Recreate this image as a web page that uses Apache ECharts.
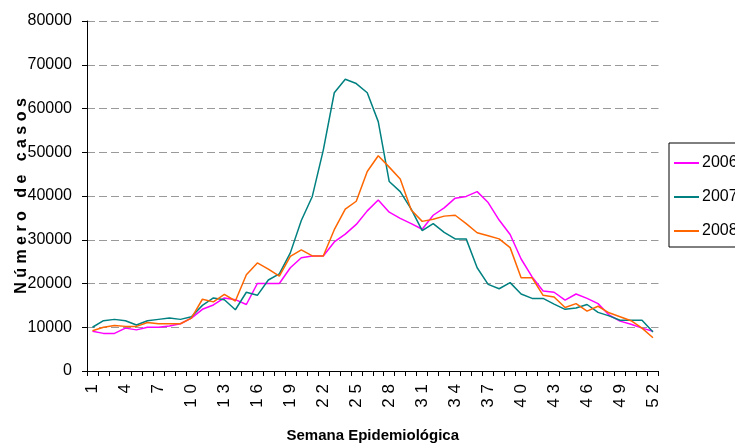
<!DOCTYPE html>
<html>
<head>
<meta charset="utf-8">
<script src="https://cdn.jsdelivr.net/npm/echarts@6/dist/echarts.min.js"></script>
<style>
html,body{margin:0;padding:0;background:#fff;}
#chart{width:735px;height:445px;}
</style>
</head>
<body>
<div id="chart"></div>
<script>
var weeks = [];
for (var i = 1; i <= 52; i++) weeks.push(String(i));

var s2006 = [9100, 8600, 8600, 9800, 9400, 10000, 10000, 10300, 10800, 12100,
  14100, 15100, 16700, 16300, 15200, 20000, 20000, 20000, 23600, 25900,
  26300, 26300, 29500, 31300, 33500, 36600, 39100, 36300, 34900, 33700,
  32400, 35600, 37300, 39500, 39900, 41000, 38500, 34500, 31200, 25600,
  21500, 18300, 18000, 16200, 17600, 16600, 15400, 12800, 11400, 10700,
  9800, 9100];

var s2007 = [10000, 11500, 11800, 11500, 10500, 11500, 11800, 12100, 11800, 12400,
  15000, 16700, 16300, 14000, 18000, 17300, 20800, 22200, 27000, 34400,
  39900, 50500, 63600, 66700, 65700, 63600, 57000, 43300, 41000, 37000,
  32100, 33700, 31700, 30200, 30200, 23600, 19800, 18800, 20200, 17600,
  16600, 16600, 15300, 14100, 14400, 15200, 13400, 12600, 11600, 11600,
  11600, 8900];

var s2008 = [9200, 10000, 10400, 10200, 10200, 11100, 10800, 10800, 10800, 12100,
  16400, 15800, 17500, 16000, 22000, 24700, 23300, 21700, 26200, 27700,
  26300, 26300, 32300, 37000, 38800, 45600, 49200, 46600, 43900, 36800,
  34200, 34700, 35400, 35600, 33700, 31600, 30900, 30200, 28200, 21300,
  21300, 17300, 16900, 14500, 15400, 13700, 14800, 13300, 12400, 11500,
  9800, 7600];

var seriesNames = ['2006', '2007', '2008'];
var seriesColors = ['#FF00FF', '#008080', '#FF6600'];
var seriesData = [s2006, s2007, s2008];

var FONT = '"Liberation Sans", Arial, sans-serif';

var chart = echarts.init(document.getElementById('chart'), null, {renderer: 'canvas'});
chart.setOption({
  animation: false,
  backgroundColor: '#ffffff',
  grid: {left: 87, right: 76.5, top: 21, bottom: 74, containLabel: false, outerBoundsMode: 'none'},
  legend: {
    orient: 'vertical',
    left: 669, top: 143,
    padding: [12, 6, 8, 5],
    itemGap: 18,
    itemWidth: 25,
    itemHeight: 2,
    icon: 'rect',
    borderColor: '#000',
    borderWidth: 1,
    borderRadius: 0,
    textStyle: {fontFamily: FONT, fontSize: 16, color: '#000', padding: [0, 0, 0, -2]},
    data: seriesNames
  },
  xAxis: {
    type: 'category',
    data: weeks,
    boundaryGap: true,
    name: 'Semana Epidemiológica',
    nameLocation: 'middle',
    nameGap: 57,
    nameMoveOverlap: false,
    nameTextStyle: {fontFamily: FONT, fontSize: 15, fontWeight: 'bold', color: '#000'},
    axisLine: {lineStyle: {color: '#000', width: 1}},
    axisTick: {show: true, interval: 0, length: 5, lineStyle: {color: '#000'}},
    axisLabel: {interval: 2, rotate: 90, margin: 13, fontFamily: FONT, fontSize: 17, color: '#000',
      formatter: function (v) { return v.split('').join(' '); }},
    splitLine: {show: false}
  },
  yAxis: {
    type: 'value',
    min: 0, max: 80000, interval: 10000,
    name: 'N ú m e r o   d e   c a s o s',
    nameLocation: 'middle',
    nameRotate: 90,
    nameGap: 57,
    nameMoveOverlap: false,
    nameTextStyle: {fontFamily: FONT, fontSize: 16, fontWeight: 'bold', color: '#000'},
    axisLine: {show: true, lineStyle: {color: '#000', width: 1}},
    axisTick: {show: true, length: 5, inside: false, lineStyle: {color: '#000'}},
    axisLabel: {margin: 15, fontFamily: FONT, fontSize: 16, color: '#000',
      formatter: function (v) { return String(v); }},
    splitLine: {show: true, lineStyle: {color: '#9a9a9a', type: [8, 4], width: 1}}
  },
  series: seriesNames.map(function (n, i) {
    return {
      name: n,
      type: 'line',
      data: seriesData[i],
      symbol: 'none',
      smooth: false,
      lineStyle: {color: seriesColors[i], width: 1.5},
      itemStyle: {color: seriesColors[i]}
    };
  })
});
</script>
</body>
</html>
